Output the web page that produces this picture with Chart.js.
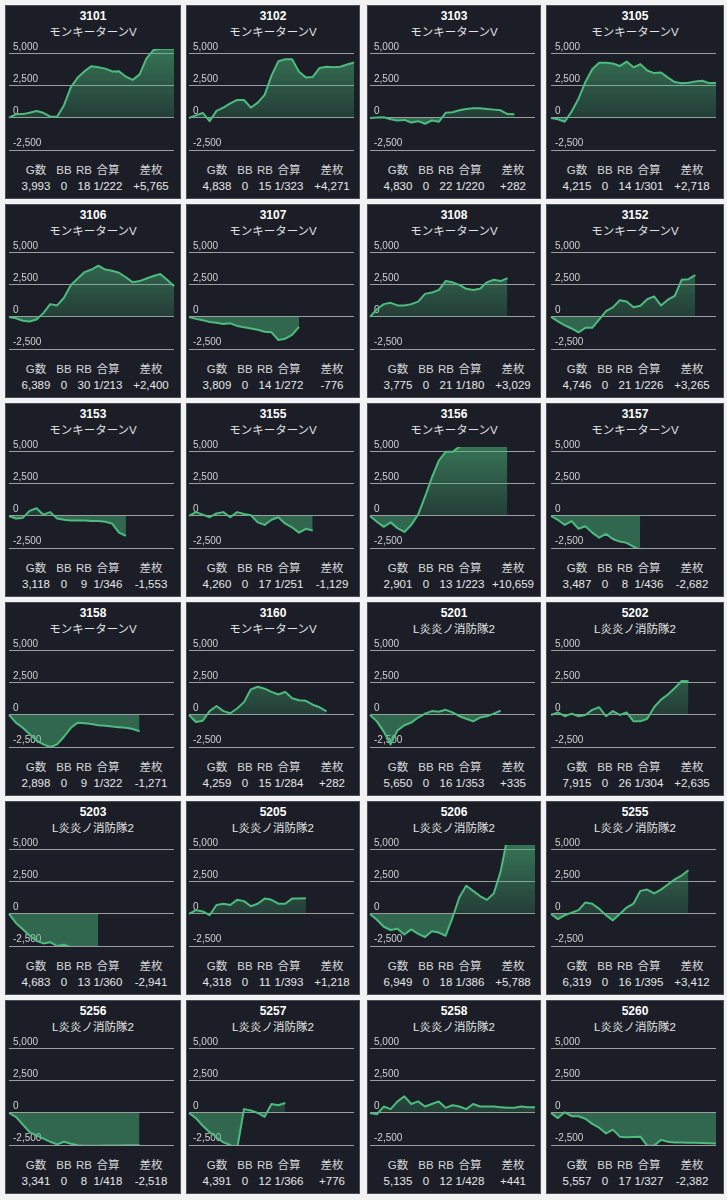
<!DOCTYPE html>
<html>
<head>
<meta charset="utf-8">
<script src="https://cdn.jsdelivr.net/npm/chart.js@4.4.1/dist/chart.umd.min.js"></script>
<style>
  body { margin: 0; background: #f2f2f2; width: 727px; height: 1200px; overflow: hidden;
         font-family: "Liberation Sans", "Noto Sans CJK JP", sans-serif; }
  #grid { position: relative; width: 727px; height: 1200px; }
  .cell { position: absolute; height: 194px; background: #1b1e26; border: 1px solid #4a4e57; box-sizing: border-box; }
  .cell canvas { position: absolute; left: -1px; top: 29px; }
  .ttl { position: absolute; left: 0; right: 0; top: 3px; text-align: center; color: #fff; font-weight: bold; font-size: 12px; line-height: 14px; }
  .sub { position: absolute; left: 0; right: 0; top: 19px; text-align: center; color: #e4e4e4; font-size: 11.5px; line-height: 14px; }
  .st { position: absolute; transform: translateX(-50%); white-space: nowrap; font-size: 11.5px; line-height: 14px; }
  .hd { top: 157px; color: #d6d6d6; }
  .vl { top: 173px; color: #e6e6e6; }
</style>
</head>
<body>
<div id="grid"></div>
<script>
const machines = ['3101', '3102', '3103', '3105', '3106', '3107', '3108', '3152',
  '3153', '3155', '3156', '3157', '3158', '3160', '5201', '5202',
  '5203', '5205', '5206', '5255', '5256', '5257', '5258', '5260'];
const models = ['モンキーターンV', 'L炎炎ノ消防隊2'];
const modelOf = [0, 0, 0, 0, 0, 0, 0, 0, 0, 0, 0, 0, 0, 0, 1, 1, 1, 1, 1, 1, 1, 1, 1, 1];
const games = [3993, 4838, 4830, 4215, 6389, 3809, 3775, 4746, 3118, 4260, 2901, 3487,
  2898, 4259, 5650, 7915, 4683, 4318, 6949, 6319, 3341, 4391, 5135, 5557];
const bb = [0, 0, 0, 0, 0, 0, 0, 0, 0, 0, 0, 0, 0, 0, 0, 0, 0, 0, 0, 0, 0, 0, 0, 0];
const rb = [18, 15, 22, 14, 30, 14, 21, 21, 9, 17, 13, 8, 9, 15, 16, 26, 13, 11, 18, 16, 8, 12, 12, 17];
const gousan = [222, 323, 220, 301, 213, 272, 180, 226, 346, 251, 223, 436,
  322, 284, 353, 304, 360, 393, 386, 395, 418, 366, 428, 327];
const samai = [5765, 4271, 282, 2718, 2400, -776, 3029, 3265, -1553, -1129, 10659, -2682,
  -1271, 282, 335, 2635, -2941, 1218, 5788, 3412, -2518, 776, 441, -2382];
const statHeads = ['G数', 'BB', 'RB', '合算', '差枚'];
const yTicks = [-2500, 0, 2500, 5000];
const slots = ['0', '1', '2', '3', '4', '5', '6', '7', '8', '9', '10', '11', '12',
  '13', '14', '15', '16', '17', '18', '19', '20', '21', '22', '23', '24'];

// 差枚推移 (one value per time slot)
const s3101 = [25, 280, 300, 400, 540, 400, 100, 100, 1000, 2400, 3150, 3650, 4040, 3950, 3850, 3630, 3650, 3220, 2970, 3400, 4650, 5300, 5390, 5390, 5390];
const s3102 = [0, 200, 390, -250, 550, 800, 1140, 1400, 1400, 800, 1200, 1800, 3300, 4420, 4580, 4580, 3600, 3150, 3200, 3900, 4000, 3960, 4000, 4170, 4320];
const s3103 = [0, 30, 50, -100, -200, -150, -350, -250, -450, -200, -300, 400, 450, 600, 700, 750, 750, 700, 650, 600, 300, 282];
const s3105 = [0, -100, -300, 500, 1500, 2800, 3800, 4300, 4300, 4250, 4050, 4400, 3950, 4200, 3700, 3500, 3550, 3150, 2800, 2700, 2750, 2850, 2900, 2720, 2718];
const s3106 = [0, -100, -300, -350, -200, 300, 1000, 900, 1500, 2500, 3000, 3500, 3700, 4000, 3700, 3600, 3450, 3100, 2700, 2800, 3000, 3200, 3350, 2900, 2400];
const s3107 = [0, -150, -250, -400, -450, -550, -500, -700, -800, -900, -1000, -1150, -1200, -1800, -1700, -1400, -776];
const s3108 = [0, 600, 1000, 1100, 900, 900, 1000, 1200, 1800, 1900, 2100, 2800, 2700, 2500, 2200, 2100, 2200, 2700, 2900, 2800, 3029];
const s3152 = [0, -350, -650, -900, -1200, -850, -850, -200, 450, 750, 1300, 1200, 750, 880, 1380, 1600, 900, 1350, 1650, 2900, 2950, 3265];
const s3153 = [0, -200, -150, 400, 600, 100, 300, -200, -300, -350, -350, -350, -400, -400, -450, -600, -1300, -1553];
const s3155 = [0, 300, 100, -100, 200, 300, -100, 300, 150, 50, -500, -700, -300, -100, -600, -900, -1300, -1000, -1129];
const s3156 = [0, -450, -850, -500, -950, -1250, -700, 100, 1500, 3000, 4300, 5000, 5000, 5400, 6500, 7500, 8500, 9000, 9500, 10000, 10659];
const s3157 = [0, -300, -700, -400, -1000, -800, -1300, -1700, -1400, -1800, -2000, -2100, -2400, -2682];
const s3158 = [0, -600, -1000, -1500, -2000, -2300, -2500, -2300, -1700, -1000, -600, -650, -700, -800, -850, -900, -950, -1000, -1100, -1271];
const s3160 = [0, -550, -450, 300, 700, 300, 130, 500, 1000, 2000, 2200, 2050, 1800, 1600, 1800, 1300, 1150, 1100, 800, 600, 282];
const s5201 = [0, -500, -1300, -2300, -1200, -800, -600, -200, 100, 300, 250, 400, 200, -100, -300, -500, -200, -100, 100, 335];
const s5202 = [0, 200, -100, 100, -100, 0, 400, 600, -100, 300, 0, 200, -500, -500, -300, 600, 1200, 1600, 2100, 2650, 2635];
const s5203 = [0, -700, -1200, -1700, -2100, -2300, -2200, -2500, -2400, -2600, -2800, -2900, -2900, -2941];
const s5205 = [0, 300, 200, -100, 700, 800, 700, 1100, 1000, 600, 800, 1200, 1100, 800, 800, 1200, 1200, 1218];
const s5206 = [0, -450, -1000, -1250, -1150, -1600, -1200, -1550, -1800, -1350, -1450, -1700, -300, 1300, 2200, 1800, 1400, 1100, 1600, 3300, 6000, 6200, 6000, 5900, 5788];
const s5255 = [0, -400, -100, 100, 300, 900, 800, 400, -100, -500, 0, 500, 800, 1800, 1900, 1600, 1900, 2300, 2700, 3000, 3412];
const s5256 = [0, -300, -900, -1500, -1750, -2000, -2250, -2450, -2250, -2400, -2520, -2550, -2560, -2550, -2540, -2530, -2530, -2520, -2520, -2518];
const s5257 = [0, -400, -1000, -1500, -1900, -2300, -2500, -2800, 300, 200, 0, -300, 700, 600, 776];
const s5258 = [0, -100, 500, 300, 900, 1300, 700, 900, 500, 700, 900, 400, 600, 500, 300, 700, 500, 500, 500, 450, 400, 400, 500, 450, 441];
const s5260 = [0, -400, 50, -250, -260, -450, -850, -1150, -1600, -1300, -1850, -1900, -1880, -1850, -2550, -2550, -2100, -2250, -2300, -2300, -2320, -2330, -2350, -2370, -2382];

const series = [s3101, s3102, s3103, s3105, s3106, s3107, s3108, s3152,
  s3153, s3155, s3156, s3157, s3158, s3160, s5201, s5202,
  s5203, s5205, s5206, s5255, s5256, s5257, s5258, s5260];

// layout of the collage
const colLeft = [5, 186, 367, 546];
const colWidth = [176, 174, 174, 178];
const rowTop = [5, 204, 403, 602, 801, 1000];
const padL = [4, 3, 3, 5];
const statX = [30, 58, 78, 102, 145];

const GREEN = '#4cbb7d';
const fmt = (v) => v.toLocaleString('en-US');

function aboveFill(ctx) {
  const { chart } = ctx;
  const area = chart.chartArea;
  if (!area) return 'rgba(76,187,125,0.38)';
  const zero = chart.scales.y.getPixelForValue(0);
  const g = chart.ctx.createLinearGradient(0, area.top, 0, zero);
  g.addColorStop(0, 'rgba(76,187,125,0.55)');
  g.addColorStop(1, 'rgba(76,187,125,0.2)');
  return g;
}

const grid = document.getElementById('grid');

machines.forEach((m, i) => {
  const col = i % 4;
  const row = Math.floor(i / 4);
  const w = colWidth[col];

  const cell = document.createElement('div');
  cell.className = 'cell';
  cell.style.left = colLeft[col] + 'px';
  cell.style.top = rowTop[row] + 'px';
  cell.style.width = w + 'px';

  const ttl = document.createElement('div');
  ttl.className = 'ttl';
  ttl.textContent = m;
  cell.appendChild(ttl);

  const sub = document.createElement('div');
  sub.className = 'sub';
  sub.textContent = models[modelOf[i]];
  cell.appendChild(sub);

  const canvas = document.createElement('canvas');
  canvas.width = w;
  canvas.height = 118;
  canvas.style.width = w + 'px';
  canvas.style.height = '118px';
  cell.appendChild(canvas);

  const vals = [fmt(games[i]), String(bb[i]), String(rb[i]), '1/' + gousan[i],
    (samai[i] > 0 ? '+' : '') + fmt(samai[i])];
  statHeads.forEach((h, k) => {
    const a = document.createElement('span');
    a.className = 'st hd';
    a.style.left = statX[k] + 'px';
    a.textContent = h;
    cell.appendChild(a);
    const b = document.createElement('span');
    b.className = 'st vl';
    b.style.left = statX[k] + 'px';
    b.textContent = vals[k];
    cell.appendChild(b);
  });

  grid.appendChild(cell);

  new Chart(canvas, {
    type: 'line',
    data: {
      labels: slots,
      datasets: [{
        data: series[i],
        borderColor: GREEN,
        borderWidth: 2,
        borderJoinStyle: 'round',
        pointRadius: 0,
        tension: 0,
        backgroundColor: aboveFill,
        fill: { target: 'origin', below: 'rgba(76,187,125,0.47)' },
      }],
    },
    options: {
      responsive: false,
      animation: false,
      devicePixelRatio: 1,
      layout: { autoPadding: false, padding: { left: padL[col], right: w - padL[col] - 165, top: 14, bottom: 3 } },
      plugins: { legend: { display: false }, tooltip: { enabled: false } },
      scales: {
        x: { display: false, offset: false },
        y: {
          min: -2500,
          max: 5380,
          z: 1,
          afterBuildTicks: (scale) => { scale.ticks = yTicks.map((v) => ({ value: v })); },
          afterFit: (scale) => {
            scale.width = 0;
            scale.paddingTop = 0;
            scale.paddingBottom = 0;
          },
          border: { display: false },
          grid: { color: 'rgba(200,200,200,0.75)', lineWidth: 1, drawTicks: false },
          ticks: {
            mirror: true,
            padding: 4,
            labelOffset: -7,
            color: '#d0d0d0',
            font: { family: 'Liberation Sans', size: 10 },
            callback: (v) => fmt(v),
          },
        },
      },
    },
  });
});
</script>
</body>
</html>
